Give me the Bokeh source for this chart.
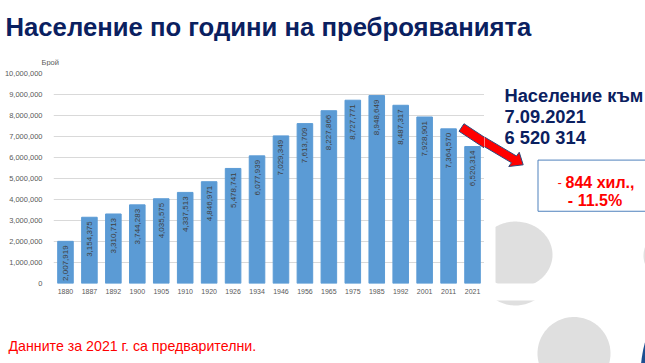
from math import pi
import numpy as np
from bokeh.plotting import figure
from bokeh.layouts import column, row
from bokeh.models import (ColumnDataSource, Range1d, FixedTicker, LinearScale,
                          NumeralTickFormatter)
from bokeh.core.properties import value
from bokeh.embed import file_html
from bokeh.resources import INLINE

# ---------------- data ----------------
years = ["1880", "1887", "1892", "1900", "1905", "1910", "1920", "1926", "1934",
         "1946", "1956", "1965", "1975", "1985", "1992", "2001", "2011", "2021"]
population = [2007919, 3154375, 3310713, 3744283, 4035575, 4337513, 4846971,
              5478741, 6077939, 7029349, 7613709, 8227866, 8727771, 8948649,
              8487317, 7928901, 7364570, 6520314]
population_labels = [f"{v:,}" for v in population]
y_ticks = [0, 1000000, 2000000, 3000000, 4000000, 5000000,
           6000000, 7000000, 8000000, 9000000, 10000000]

title_text = "Население по години на преброяванията"
side_lines = ["Население към", "7.09.2021", "6 520 314"]
change_dash = "-"
change_abs = "844 хил.,"
change_pct = "- 11.5%"
footer_text = "Данните за 2021 г. са предварителни."
y_axis_label = "Брой"

NAVY = "#0a2060"
RED = "#ff0000"
GREY_TXT = "#595959"
CIRCLE = "#dfdfdf"
FONT = "Liberation Sans"

x_pos = [i + 0.5 for i in range(len(years))]


def page_fig(x0, x1, y0, y1):
    """Decoration panel whose data units are page pixels (y grows downward)."""
    f = figure(width=int(x1 - x0), height=int(y1 - y0),
               x_range=Range1d(x0, x1), y_range=Range1d(y1, y0),
               x_axis_type=None, y_axis_type=None, output_backend="svg",
               toolbar_location=None, min_border=0)
    f.min_border_left = f.min_border_right = f.min_border_top = f.min_border_bottom = 0
    f.grid.visible = False
    f.outline_line_color = None
    f.background_fill_color = "white"
    f.border_fill_color = "white"
    return f


def txt(f, x, y, text, size, color, bold=False, align="left", font=FONT, **kw):
    f.text(x=[x], y=[y], text=[text], text_font=value(font), text_font_size=size,
           text_color=color, text_font_style="bold" if bold else "normal",
           text_align=align, text_baseline="alphabetic", **kw)


# shapes (page pixels)
th = np.linspace(0, 2 * pi, 160)
circA_x = np.clip(515 + 37 * np.cos(th), 495, None); circA_y = 268 + 37 * np.sin(th)
circB_x = 573.5 + 36.5 * np.cos(th); circB_y = 353 + 36.5 * np.sin(th)
circC_x = 674 + 31 * np.cos(th); circC_y = 269 + 31 * np.sin(th)
blue_x = 765 + 125 * np.cos(th); blue_y = 375 + 125 * np.sin(th)
T = np.array([461.0, 127.0]); B = np.array([513.5, 161.7])
d = (B - T) / np.linalg.norm(B - T); n = np.array([-d[1], d[0]])
arrow_pts = [T - 4.5 * n, B - 4.5 * n, B - 9.5 * n, B + 11 * d, B + 9.5 * n, B + 4.5 * n, T + 4.5 * n]
arrow_x = [q[0] for q in arrow_pts]; arrow_y = [q[1] for q in arrow_pts]

# ---------------- title panel ----------------
top = page_fig(0, 645, 0, 66)
txt(top, 5, 26, title_text, "25.7px", NAVY, bold=True)
txt(top, 41, 62, y_axis_label, "7.5px", GREY_TXT)

# ---------------- chart ----------------
p = figure(x_range=Range1d(0, len(years)), y_range=Range1d(0, 10000000),
           width=484, height=234, output_backend="svg", toolbar_location=None,
           min_border_left=53, min_border_right=0, min_border_top=7,
           min_border_bottom=17)
p.background_fill_color = "white"
p.border_fill_color = "white"
p.outline_line_color = None
p.extra_x_ranges = {"px": Range1d(53, 484)}
p.extra_y_ranges = {"py": Range1d(283, 73)}
p.extra_x_scales = {"px": LinearScale()}
p.extra_y_scales = {"py": LinearScale()}

src = ColumnDataSource(dict(x=x_pos, pop=population, label=population_labels))
p.vbar(x="x", top="pop", width=0.65, source=src, color="#5b9bd5")
p.text(x="x", y="pop", text="label", source=src, angle=pi / 2,
       text_align="right", text_baseline="middle", y_offset=4,
       text_font=value(FONT), text_font_size="8px", text_color="#404040")
p.patch(arrow_x, arrow_y, fill_color=RED, line_color="#2e4a7d", line_width=1,
        x_range_name="px", y_range_name="py")

p.xaxis.ticker = FixedTicker(ticks=x_pos)
p.xaxis.major_label_overrides = {x: y for x, y in zip(x_pos, years)}
p.xaxis.axis_line_color = None
p.xaxis.major_tick_line_color = None
p.xaxis.minor_tick_line_color = None
p.xaxis.major_label_text_font = FONT
p.xaxis.major_label_text_font_size = "7px"
p.xaxis.major_label_text_color = GREY_TXT
p.xaxis.major_label_standoff = -1

p.yaxis.ticker = FixedTicker(ticks=y_ticks)
p.yaxis.formatter = NumeralTickFormatter(format="0,0")
p.yaxis.axis_line_color = None
p.yaxis.major_tick_line_color = None
p.yaxis.minor_tick_line_color = None
p.yaxis.major_label_text_font = FONT
p.yaxis.major_label_text_font_size = "7.5px"
p.yaxis.major_label_text_color = GREY_TXT
p.yaxis.major_label_standoff = 5

p.xgrid.grid_line_color = None
p.ygrid.ticker = FixedTicker(ticks=y_ticks)
p.ygrid.grid_line_color = "#d9d9d9"
p.ygrid.grid_line_width = 1

# ---------------- side panel ----------------
side = page_fig(484, 645, 66, 300)
side.patch(circA_x, circA_y, fill_color=CIRCLE, line_color=None)
side.patch(circC_x, circC_y, fill_color=CIRCLE, line_color=None)
side.patch(arrow_x, arrow_y, fill_color=RED, line_color="#2e4a7d", line_width=1)
side.patch([537.5, 660, 660, 537.5], [162.5, 162.5, 219.5, 219.5], fill_color=None,
           line_color="#4f81bd", line_width=1)
for i, line in enumerate(side_lines):
    txt(side, 504, 91 + 23 * i, line, "18.3px", NAVY, bold=True)
txt(side, 557, 188, change_dash, "13px", RED)
txt(side, 565, 188, change_abs, "16px", RED, bold=True)
txt(side, 594.5, 207, change_pct, "16px", RED, bold=True, align="center")

# ---------------- footer panel ----------------
foot = page_fig(0, 645, 300, 363)
foot.patch(circA_x, circA_y, fill_color=CIRCLE, line_color=None)
foot.patch(circB_x, circB_y, fill_color=CIRCLE, line_color=None)
foot.patch(blue_x, blue_y, fill_color="#1d4f91", line_color=None)
txt(foot, 8, 345, footer_text, "14.2px", RED)

layout = column(top, row(p, side, spacing=0), foot, spacing=0)
open("out.html", "w").write(file_html(layout, INLINE))
